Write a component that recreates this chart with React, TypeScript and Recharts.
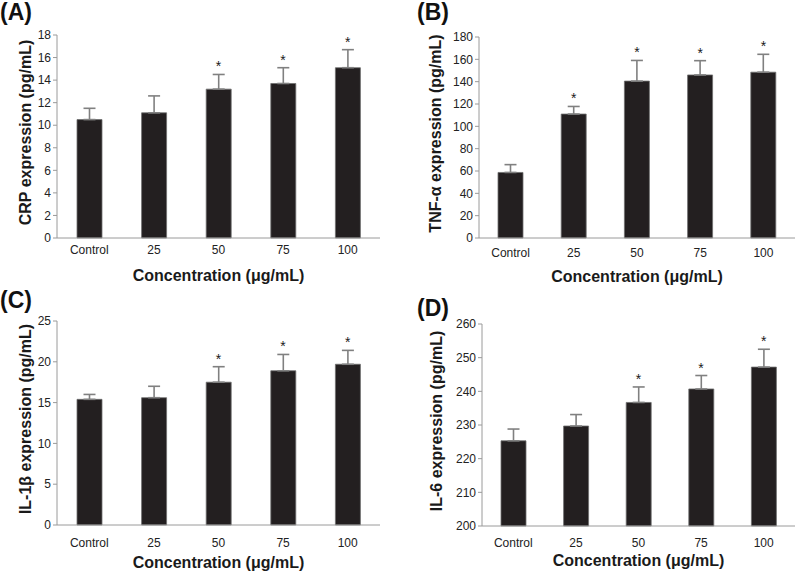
import React from 'react'
import { ComposedChart, Bar, Line, XAxis, YAxis, ErrorBar } from 'recharts'

const CATEGORIES = ['Control', '25', '50', '75', '100']

const CRP_MEAN = [10.5, 11.1, 13.2, 13.7, 15.1]
const CRP_SD = [1.0, 1.5, 1.3, 1.4, 1.6]
const CRP_SIG = [false, false, true, true, true]
const CRP_TICKS = [0, 2, 4, 6, 8, 10, 12, 14, 16, 18]

const TNF_MEAN = [58.7, 111, 140.5, 146, 148.5]
const TNF_SD = [7, 6.8, 18.5, 12.8, 16]
const TNF_SIG = [false, true, true, true, true]
const TNF_TICKS = [0, 20, 40, 60, 80, 100, 120, 140, 160, 180]

const IL1B_MEAN = [15.4, 15.6, 17.5, 18.9, 19.7]
const IL1B_SD = [0.6, 1.4, 1.9, 2.0, 1.7]
const IL1B_SIG = [false, false, true, true, true]
const IL1B_TICKS = [0, 5, 10, 15, 20, 25]

const IL6_MEAN = [225.3, 229.7, 236.7, 240.7, 247.2]
const IL6_SD = [3.5, 3.4, 4.6, 4.0, 5.3]
const IL6_SIG = [false, false, true, true, true]
const IL6_TICKS = [200, 210, 220, 230, 240, 250, 260]

const X_TITLE = 'Concentration (μg/mL)'

const BAR_FILL = '#231f20'
const AXIS_GRAY = '#9a9a9a'
const ERR_GRAY = '#808080'

function buildRows(mean: number[], sd: number[], sig: boolean[]) {
  return CATEGORIES.map((name, i) => ({
    name,
    mean: mean[i],
    err: [0, sd[i]],
    star: sig[i] ? mean[i] + sd[i] : null,
  }))
}

function YTitle({ text, tx, ty }: any) {
  return (
    <text
      x={tx}
      y={ty}
      transform={`rotate(-90 ${tx} ${ty})`}
      textAnchor="middle"
      fontSize={16}
      fontWeight="bold"
      fill="#1a1a1a"
    >
      {text}
    </text>
  )
}

function XTitle({ tx, ty }: any) {
  return (
    <text x={tx} y={ty} textAnchor="middle" fontSize={16} fontWeight="bold" fill="#1a1a1a">
      {X_TITLE}
    </text>
  )
}

function Star(props: any) {
  const { cx, cy, payload } = props
  if (payload.star == null || cy == null) return <g key={props.key} />
  return (
    <text key={props.key} x={cx} y={cy - 3} textAnchor="middle" fontSize={14} fill="#1a1a1a">
      *
    </text>
  )
}

type PanelProps = {
  letter: string
  letterX: number
  letterY: number
  title: string
  left: number
  top: number
  width: number
  height: number
  yWidth: number
  plotTop: number
  plotBottom: number
  right: number
  titleX: number
  tickGap: number
  xTitleOffset: number
  domain: [number, number]
  ticks: number[]
  rows: any[]
}

function Panel(p: PanelProps) {
  const plotMidX = (p.yWidth + p.width - p.right) / 2
  const plotMidY = (p.plotTop + p.plotBottom) / 2 - 4
  return (
    <div style={{ position: 'absolute', left: p.left, top: p.top, width: p.width, height: p.height }}>
      <div
        style={{
          position: 'absolute',
          left: p.letterX,
          top: p.letterY,
          fontSize: 23,
          lineHeight: '23px',
          fontWeight: 'bold',
          color: '#111',
        }}
      >
        {p.letter}
      </div>
      <ComposedChart
        width={p.width}
        height={p.height}
        data={p.rows}
        margin={{ top: p.plotTop, right: p.right, bottom: 0, left: 0 }}
      >
        <XAxis
          xAxisId="edges"
          type="number"
          domain={[0, 5]}
          ticks={[1, 2, 3, 4]}
          height={0}
          mirror
          tick={false}
          axisLine={false}
          tickSize={4}
          tickLine={{ stroke: AXIS_GRAY }}
        />
        <XAxis
          dataKey="name"
          height={p.height - p.plotBottom}
          axisLine={{ stroke: AXIS_GRAY }}
          tickLine={false}
          tickSize={0}
          tickMargin={p.tickGap}
          tick={{ fontSize: 12, fill: '#222' }}
          label={<XTitle tx={plotMidX} ty={p.plotBottom + p.xTitleOffset} />}
        />
        <YAxis
          width={p.yWidth}
          domain={p.domain}
          ticks={p.ticks}
          interval={0}
          axisLine={{ stroke: AXIS_GRAY }}
          tickLine={{ stroke: AXIS_GRAY }}
          tickSize={4}
          tickMargin={2}
          tick={{ fontSize: 12, fill: '#222' }}
          label={<YTitle text={p.title} tx={p.titleX} ty={plotMidY} />}
        />
        <Bar dataKey="mean" fill={BAR_FILL} stroke="#6e6e6e" strokeWidth={0.8} barSize={25} isAnimationActive={false}>
          <ErrorBar dataKey="err" stroke={ERR_GRAY} strokeWidth={1.6} width={6} direction="y" />
        </Bar>
        <Line dataKey="star" stroke="none" dot={Star} activeDot={false} isAnimationActive={false} />
      </ComposedChart>
    </div>
  )
}

export default function App() {
  return (
    <div
      style={{
        position: 'absolute',
        left: 0,
        top: 0,
        width: 797,
        height: 571,
        background: '#fff',
        fontFamily: '"Liberation Sans", Arial, sans-serif',
      }}
    >
      <Panel
        letter="(A)"
        letterX={0}
        letterY={1}
        title="CRP expression (pg/mL)"
        left={0}
        top={0}
        width={398}
        height={285}
        yWidth={57}
        plotTop={35}
        plotBottom={238}
        right={18}
        titleX={31}
        tickGap={7}
        xTitleOffset={43}
        domain={[0, 18]}
        ticks={CRP_TICKS}
        rows={buildRows(CRP_MEAN, CRP_SD, CRP_SIG)}
      />
      <Panel
        letter="(B)"
        letterX={17}
        letterY={1}
        title="TNF-α expression (pg/mL)"
        left={400}
        top={0}
        width={397}
        height={285}
        yWidth={79}
        plotTop={37}
        plotBottom={238}
        right={2}
        titleX={41}
        tickGap={10}
        xTitleOffset={44}
        domain={[0, 180]}
        ticks={TNF_TICKS}
        rows={buildRows(TNF_MEAN, TNF_SD, TNF_SIG)}
      />
      <Panel
        letter="(C)"
        letterX={0}
        letterY={4}
        title="IL-1β expression (pg/mL)"
        left={0}
        top={285}
        width={398}
        height={286}
        yWidth={57}
        plotTop={36}
        plotBottom={240}
        right={18}
        titleX={31}
        tickGap={13}
        xTitleOffset={43}
        domain={[0, 25]}
        ticks={IL1B_TICKS}
        rows={buildRows(IL1B_MEAN, IL1B_SD, IL1B_SIG)}
      />
      <Panel
        letter="(D)"
        letterX={17}
        letterY={12}
        title="IL-6 expression (pg/mL)"
        left={400}
        top={285}
        width={397}
        height={286}
        yWidth={82}
        plotTop={39}
        plotBottom={241}
        right={2}
        titleX={42}
        tickGap={12}
        xTitleOffset={40}
        domain={[200, 260]}
        ticks={IL6_TICKS}
        rows={buildRows(IL6_MEAN, IL6_SD, IL6_SIG)}
      />
    </div>
  )
}
